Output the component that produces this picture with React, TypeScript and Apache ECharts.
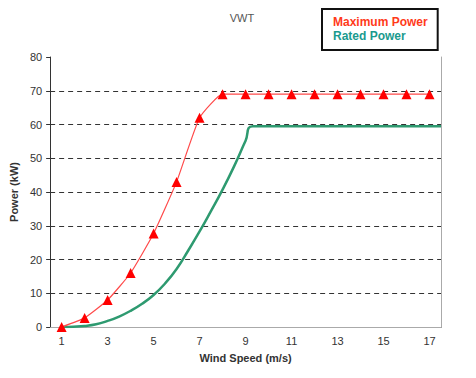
import React, { useEffect, useRef } from "react";
import * as echarts from "echarts";

const windSpeeds = ["1", "2", "3", "4", "5", "6", "7", "8", "9", "10", "11", "12", "13", "14", "15", "16", "17"];
const maxPower = [0, 2.7, 8, 16, 27.7, 43, 62, 69, 69, 69, 69, 69, 69, 69, 69, 69, 69];
const ratedX = [1, 1.5, 2, 2.5, 3, 3.5, 4, 4.5, 5, 5.5, 6, 6.5, 7, 7.5, 8, 8.5, 9, 9.31, 17.5];
const ratedY = [0, 0.1, 0.3, 0.8, 1.8, 3.1, 4.8, 6.9, 9.5, 12.9, 17.2, 22.6, 28.3, 34.4, 40.7, 47.6, 55.2, 59.5, 59.5];
const yTicks = [0, 10, 20, 30, 40, 50, 60, 70, 80];

const FONT = "Arial, 'Liberation Sans', sans-serif";

export default function App() {
  const ref = useRef<HTMLDivElement>(null);
  useEffect(() => {
    if (!ref.current) return;
    const chart = echarts.init(ref.current, undefined, { renderer: "svg" });
    const splitColors = yTicks.map((v, i) => (i === 0 || i === yTicks.length - 1 ? "transparent" : "#333"));
    chart.setOption({
      animation: false,
      backgroundColor: "#fff",
      title: {
        text: "VWT",
        left: 237,
        textAlign: "center",
        top: 7,
        textStyle: { fontFamily: FONT, fontSize: 11, fontWeight: "normal", color: "#555" },
      },
      legend: {
        left: 322,
        top: 9,
        orient: "vertical",
        icon: "none",
        itemWidth: 0,
        itemHeight: 14,
        itemGap: 1,
        padding: [6, 10, 8, 6],
        borderColor: "#111",
        borderWidth: 2,
        borderRadius: 0,
        selectedMode: false,
        data: [
          { name: "Maximum Power", textStyle: { color: "#ff3a1a" } },
          { name: "Rated Power", textStyle: { color: "#1a9a8e" } },
        ],
        textStyle: { fontFamily: FONT, fontSize: 12, fontWeight: "bold" },
      },
      grid: { left: 50, right: 35, top: 57, bottom: 51 },
      xAxis: [
        {
          type: "category",
          data: windSpeeds,
          boundaryGap: true,
          position: "bottom",
          name: "Wind Speed (m/s)",
          nameLocation: "middle",
          nameGap: 25,
          nameTextStyle: { fontFamily: FONT, fontSize: 11, fontWeight: "bold", color: "#333" },
          axisLine: { lineStyle: { color: "#333", width: 1 } },
          axisTick: { interval: 0, length: 4, lineStyle: { color: "#333" } },
          axisLabel: { interval: 1, fontFamily: FONT, fontSize: 11, color: "#333", margin: 8 },
          splitLine: { show: false },
        },
        {
          type: "value",
          min: 0.5,
          max: 17.5,
          position: "top",
          axisLine: { show: true, lineStyle: { color: "#aaa", width: 1 } },
          axisTick: { show: false },
          axisLabel: { show: false },
          splitLine: { show: false },
        },
      ],
      yAxis: [
        {
          type: "value",
          min: 0,
          max: 80,
          interval: 10,
          name: "Power (kW)",
          nameLocation: "middle",
          nameGap: 28,
          nameTextStyle: { fontFamily: FONT, fontSize: 11, fontWeight: "bold", color: "#333" },
          axisLine: { show: true, lineStyle: { color: "#333", width: 1 } },
          axisTick: { show: true, length: 4, lineStyle: { color: "#333" } },
          axisLabel: { fontFamily: FONT, fontSize: 11, color: "#333", margin: 8 },
          splitLine: { show: true, lineStyle: { color: splitColors, type: [5, 4], width: 1 } },
        },
        {
          type: "value",
          min: 0,
          max: 80,
          position: "right",
          axisLine: { show: true, lineStyle: { color: "#aaa", width: 1 } },
          axisTick: { show: false },
          axisLabel: { show: false },
          splitLine: { show: false },
        },
      ],
      series: [
        {
          name: "Maximum Power",
          type: "line",
          xAxisIndex: 1,
          yAxisIndex: 0,
          data: windSpeeds.map((w, i) => [Number(w), maxPower[i]]),
          symbol: "triangle",
          symbolSize: 10,
          smooth: 0.15,
          lineStyle: { color: "#ff4a4a", width: 1.2 },
          itemStyle: { color: "#ff0000" },
          z: 3,
        },
        {
          name: "Rated Power",
          type: "line",
          xAxisIndex: 1,
          yAxisIndex: 0,
          data: ratedX.map((x, i) => [x, ratedY[i]]),
          symbol: "none",
          smooth: 0.5,
          lineStyle: { color: "#2e9a70", width: 2.5 },
          itemStyle: { color: "#2e9a70" },
          z: 2,
        },
      ],
    });
    return () => chart.dispose();
  }, []);
  return <div ref={ref} style={{ width: 476, height: 378, position: "absolute", left: 0, top: 0 }} />;
}
